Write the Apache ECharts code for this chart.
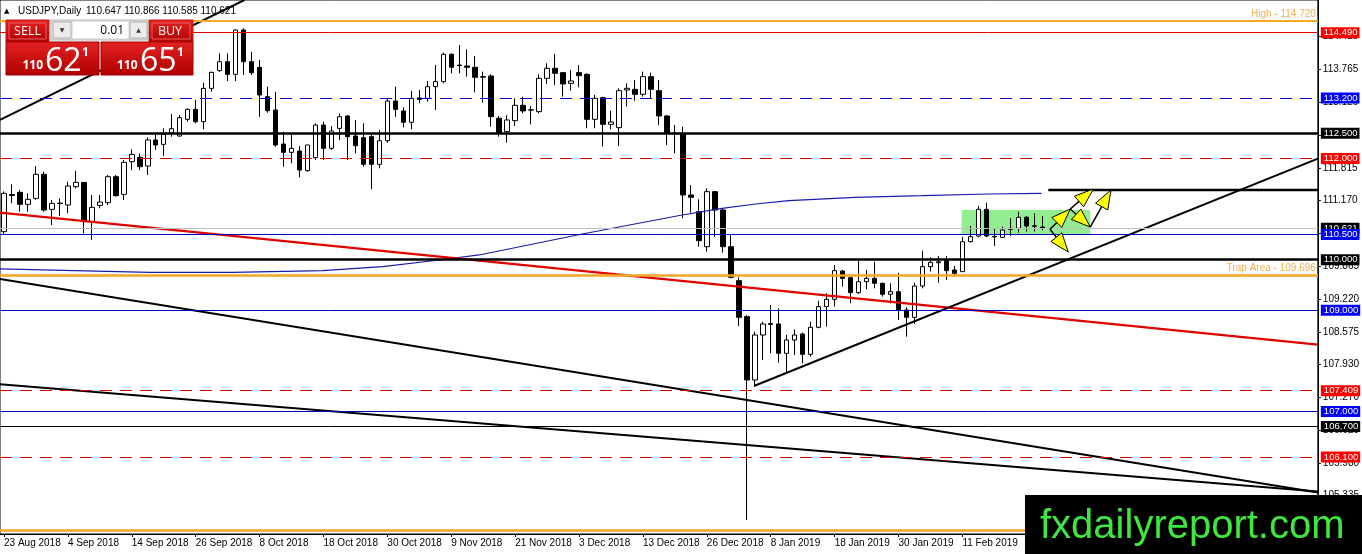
<!DOCTYPE html>
<html><head><meta charset="utf-8">
<style>html,body{margin:0;padding:0;background:#fff;overflow:hidden}#c{width:1362px;height:554px}</style>
<script src="https://cdn.jsdelivr.net/npm/echarts@6.0.0/dist/echarts.min.js"></script>
</head><body><div id="c"></div>
<script>
// ---- data ----
const tickLabels = ["23 Aug 2018","4 Sep 2018","14 Sep 2018","26 Sep 2018","8 Oct 2018","18 Oct 2018","30 Oct 2018","9 Nov 2018","21 Nov 2018","3 Dec 2018","13 Dec 2018","26 Dec 2018","8 Jan 2019","18 Jan 2019","30 Jan 2019","11 Feb 2019","21 Feb 2019"];
const opens = [110.555,111.29,111.333,111.095,111.214,111.689,110.996,111.11,111.082,111.445,111.530,110.752,111.075,111.128,111.642,111.293,111.939,112.025,111.853,112.368,112.282,112.513,112.447,112.776,112.974,112.73,113.389,113.739,113.917,113.666,114.543,113.917,113.805,113.225,112.961,112.288,112.124,112.15,111.761,112.018,112.664,112.203,112.598,112.842,112.447,112.414,112.434,111.886,112.354,113.139,112.942,112.718,113.2,113.192,113.423,113.522,114.063,113.85,113.832,113.806,113.62,113.634,112.797,112.533,112.751,113.054,112.96,112.929,113.588,113.786,113.70,113.489,113.70,113.667,112.777,113.206,112.678,112.612,113.357,113.37,113.272,113.621,113.344,112.843,112.5,112.49,111.28,110.951,110.258,111.346,110.984,110.258,109.586,108.874,107.621,108.511,108.72,108.729,108.149,108.412,108.531,108.129,108.663,109.072,109.217,109.777,109.645,109.349,109.566,109.632,109.533,109.316,109.368,109.006,108.861,109.48,109.863,109.94,109.982,109.797,109.764,110.357,110.469,110.997,110.46,110.443,110.6,110.621,110.839,110.67,110.647];
const highs = [111.35,111.49,111.379,111.313,111.853,111.741,111.181,111.214,111.543,111.761,111.53,111.280,111.28,111.675,111.675,111.972,112.183,112.104,112.42,112.467,112.598,112.882,112.862,112.994,113.159,113.502,113.719,114.082,114.082,114.556,114.576,114.115,113.95,113.422,113.324,112.532,112.499,112.249,112.269,112.697,112.73,112.644,112.895,112.862,112.763,112.697,112.499,112.565,113.192,113.422,113.014,113.338,113.357,113.535,113.852,114.096,114.082,114.247,114.162,114.03,113.72,113.667,112.843,112.863,113.192,113.225,113.041,113.667,113.885,114.069,113.70,113.753,113.852,113.687,113.258,113.225,112.949,113.39,113.489,113.555,113.72,113.70,113.555,112.863,112.665,112.632,111.478,111.195,111.412,111.36,111.017,110.489,109.652,108.907,108.577,108.775,109.105,109.039,108.511,108.623,108.558,108.775,109.19,109.335,109.896,109.797,109.652,109.975,109.797,109.962,109.546,109.533,109.744,109.059,109.546,110.179,110.047,110.074,110.074,109.876,110.456,110.667,111.063,111.129,110.621,110.654,110.819,110.951,110.865,110.918,110.866];
const lows = [110.50,111.115,110.95,110.95,111.181,110.95,110.686,110.864,110.917,111.412,110.522,110.39,111.016,111.082,111.247,111.181,111.774,111.774,111.675,112.17,112.051,112.434,112.434,112.73,112.697,112.579,113.324,113.719,113.535,113.535,113.653,113.653,112.829,112.908,112.236,111.84,111.906,111.629,111.741,111.972,111.972,112.17,112.368,111.972,112.104,111.84,111.392,111.807,112.315,112.829,112.619,112.579,113.094,113.127,112.962,113.489,113.687,113.687,113.621,113.311,113.107,112.632,112.434,112.316,112.645,112.896,112.678,112.896,113.476,113.456,113.225,113.344,113.41,112.599,112.599,112.237,112.579,112.25,113.028,113.146,113.225,113.192,112.665,112.27,112.105,110.819,110.931,110.259,110.16,110.456,110.14,109.632,108.689,104.852,107.522,108.017,108.149,107.964,107.766,108.116,107.951,108.083,108.643,108.676,109.072,109.467,109.138,109.322,109.415,109.434,109.27,109.138,108.808,108.478,108.729,109.434,109.764,109.546,109.599,109.698,109.764,110.338,110.443,110.443,110.272,110.443,110.469,110.535,110.555,110.555,110.585];
const closes = [111.313,111.27,111.095,111.194,111.689,110.983,111.115,111.12,111.458,111.530,110.752,111.036,111.141,111.642,111.267,111.926,112.084,111.840,112.368,112.269,112.48,112.592,112.809,112.974,112.73,113.389,113.706,113.917,113.666,114.543,113.917,113.699,113.258,112.948,112.269,112.124,112.203,111.774,112.269,112.664,112.203,112.546,112.829,112.434,112.255,111.886,111.886,112.354,113.139,112.974,112.718,113.192,113.17,113.423,113.522,114.063,113.806,113.84,113.806,113.608,113.61,112.83,112.513,112.764,113.054,112.942,112.965,113.588,113.786,113.687,113.476,113.535,113.641,112.777,113.192,112.678,112.724,113.344,113.39,113.272,113.621,113.37,112.843,112.513,112.49,111.281,111.234,110.377,111.346,110.984,110.258,109.652,108.861,107.621,108.511,108.729,108.74,108.149,108.412,108.511,108.129,108.663,109.072,109.217,109.784,109.632,109.349,109.566,109.632,109.533,109.316,109.368,109.006,108.861,109.48,109.863,109.949,109.96,109.784,109.731,110.357,110.456,110.997,110.469,110.45,110.588,110.62,110.839,110.667,110.66,110.621];
const maLine = [[-0.5,109.817],[18.25,109.751],[28.6,109.751],[39.9,109.783],[47.4,109.862],[54.5,109.995],[59.5,110.094],[72.4,110.509],[84.9,110.885],[89.9,111.017],[94.1,111.102],[98.25,111.167],[106.6,111.235],[114.9,111.266],[123.25,111.3],[129.9,111.314]];
const levelPrices = [114.720,114.490,113.200,112.500,112.000,110.621,110.500,110.000,109.696,109.000,107.409,107.000,106.700,106.100,104.654];
const levelTexts = {0:"High - 114.720", 8:"Trap Area - 109.696"};
const trendTopLeft = [[-0.5,112.764],[30.1,115.137]];
const redTrend = [[-0.5,110.93],[164.5,108.319]];
const lowerTrendA = [[-0.5,109.619],[164.5,105.396]];
const lowerTrendB = [[-0.5,107.536],[164.5,105.416]];
const upTrend = [[93.9,107.502],[164.5,112.0]];
const resistance = [[130.75,111.379],[164.5,111.379]];
const zone = [[119.9,110.984],[136,110.509]];
const arrows = [[130.96,110.602,133.25,110.153],[130.96,110.602,133.5,111.003],[133.5,111.003,136.4,111.399],[133.5,111.003,136,110.647],[136,110.647,138.6,111.379]];
const yTicks = [114.425,113.765,113.120,112.470,111.815,111.170,110.525,109.865,109.220,108.575,107.930,107.270,106.625,105.980,105.335];
const header = {symbol:"USDJPY,Daily", ohlc:"110.647 110.866 110.585 110.621", lot:"0.01", sellBig:"110", sellMain:"62", sellSup:"1", buyBig:"110", buyMain:"65", buySup:"1"};

// ---- styles ----
const N = 165;
const FONT = "Liberation Sans, Arial, sans-serif";
const RED = '#ff0000', BLUE = '#0000ff', BLK = '#000000', ORANGE = '#f5a623';
const levelStyles = [
  {color:ORANGE,width:2,type:'solid',text:true},
  {color:'#e00000',width:1,type:'solid',box:RED},
  {color:'#0000c0',width:1,type:[12,8],box:BLUE},
  {color:BLK,width:2.5,type:'solid',box:BLK},
  {color:'#d00000',width:1,type:[12,8],box:RED},
  {color:'#c0c0c0',width:1,type:'solid',box:BLK},
  {color:'#0000c0',width:1,type:'solid',box:BLUE},
  {color:BLK,width:2.5,type:'solid',box:BLK},
  {color:ORANGE,width:2.5,type:'solid',text:true},
  {color:'#0000c0',width:1,type:'solid',box:BLUE},
  {color:'#d00000',width:1,type:[12,8],box:RED},
  {color:'#0000c0',width:1,type:'solid',box:BLUE},
  {color:BLK,width:1,type:'solid',box:BLK},
  {color:'#d00000',width:1,type:[12,8],box:RED},
  {color:ORANGE,width:2.5,type:'solid'}
];

const categories = Array.from({length:N},(_,i)=>String(i));
const candleData = opens.map((o,i)=>[o,closes[i],lows[i],highs[i]]);

const markLineData = levelPrices.map((p,i)=>{
  const s = levelStyles[i];
  const item = {yAxis:p, lineStyle:{color:s.color,width:s.width,type:s.type}};
  if (s.box) {
    item.label = {show:true, position:'end', distance:3, formatter:()=>p.toFixed(3),
      backgroundColor:s.box, color:'#fff', padding:[1,2,0,3], fontSize:9.5, fontFamily:FONT, lineHeight:10};
  } else if (s.text) {
    item.label = {show:true, position:'insideEndTop', distance:2, formatter:()=>levelTexts[i],
      color:'#f0b04c', fontSize:10, fontFamily:FONT};
  } else {
    item.label = {show:false};
  }
  return item;
});

function lineSeries(data, color, width, z) {
  return {type:'line', xAxisIndex:1, yAxisIndex:0, data:data, symbol:'none', silent:true,
    lineStyle:{color:color,width:width}, z:z||4, animation:false};
}

function redGrad(){ return new echarts.graphic.LinearGradient(0,0,0,1,[{offset:0,color:'#e42222'},{offset:1,color:'#b00000'}]); }

const option = {
  animation:false,
  backgroundColor:'#fff',
  grid:{left:0,right:42,top:0,bottom:20,show:true,borderColor:'#000',borderWidth:1,backgroundColor:'#fff'},
  xAxis:[
    {type:'category',data:categories,boundaryGap:true,
     axisLine:{show:true,onZero:false,lineStyle:{color:'#000'}},
     axisTick:{show:true,length:3,alignWithLabel:true,interval:(i)=>i%8===0,lineStyle:{color:'#000'}},
     axisLabel:{show:true,interval:(i)=>i%8===0,align:'left',margin:4,color:'#000',fontSize:10,fontFamily:FONT,
       formatter:(v,i)=> (i%8===0 && tickLabels[i/8]) ? tickLabels[i/8] : ''},
     splitLine:{show:false}},
    {type:'value',min:-0.5,max:N-0.5,show:false,splitLine:{show:false},axisLine:{onZero:false}}
  ],
  yAxis:[{type:'value',position:'right',min:104.575,max:115.137,scale:true,
    axisLine:{show:true,onZero:false,lineStyle:{color:'#000'}},
    axisTick:{show:true,length:3,customValues:yTicks,lineStyle:{color:'#000'}},
    axisLabel:{show:true,customValues:yTicks,margin:5,color:'#000',fontSize:10,fontFamily:FONT,formatter:(v)=>v.toFixed(3)},
    splitLine:{show:false}}],
  series:[
    {type:'line',xAxisIndex:1,data:[],z:1,silent:true,
     markArea:{silent:true,itemStyle:{color:'#90ee90',opacity:1},
       data:[[{coord:zone[0]},{coord:zone[1]}]]}},
    {type:'candlestick',xAxisIndex:0,yAxisIndex:0,data:candleData,barWidth:5,z:3,silent:true,
     itemStyle:{color:'#fff',color0:'#000',borderColor:'#000',borderColor0:'#000',borderWidth:1}},
    {type:'line',xAxisIndex:1,data:[],z:4,silent:true,
     markLine:{silent:true,symbol:['none','none'],animation:false,data:markLineData}},
    lineSeries(maLine,'#1a1aa8',1.2),
    lineSeries(redTrend,'#e00000',2.2),
    lineSeries(trendTopLeft,'#000',2),
    lineSeries(lowerTrendA,'#000',2),
    lineSeries(lowerTrendB,'#000',2),
    lineSeries(upTrend,'#000',2),
    lineSeries(resistance,'#000',2.5),
    {type:'custom',xAxisIndex:1,yAxisIndex:0,data:arrows,z:6,silent:true,
     encode:{x:[0,2],y:[1,3]},
     renderItem:function(params,api){
       const p1 = api.coord([api.value(0),api.value(1)]);
       const p2 = api.coord([api.value(2),api.value(3)]);
       const dx=p2[0]-p1[0], dy=p2[1]-p1[1], len=Math.hypot(dx,dy);
       const ux=dx/len, uy=dy/len, hl=Math.min(19,len*0.8), hw=7;
       const bx=p2[0]-ux*hl, by=p2[1]-uy*hl;
       return {type:'group',children:[
         {type:'line',shape:{x1:p1[0],y1:p1[1],x2:bx,y2:by},style:{stroke:'#000',lineWidth:1.5}},
         {type:'polygon',shape:{points:[[p2[0],p2[1]],[bx-uy*hw,by+ux*hw],[bx+uy*hw,by-ux*hw]]},
          style:{fill:'#ffff00',stroke:'#000',lineWidth:1}}
       ]};
     }}
  ],
  graphic:[
    {type:'text',z:100,style:{text:'▲',x:4,y:11,font:'7px DejaVu Sans',fill:'#000',textVerticalAlign:'middle',verticalAlign:'middle'}},
    {type:'text',z:100,style:{text:header.symbol,x:18,y:11,font:'10px '+FONT,fill:'#000',textVerticalAlign:'middle',verticalAlign:'middle'}},
    {type:'text',z:100,style:{text:header.ohlc,x:86,y:11,font:'10px '+FONT,fill:'#000',textVerticalAlign:'middle',verticalAlign:'middle'}},
    // sell / buy buttons
    {type:'rect',z:100,shape:{x:6,y:20,width:43,height:22},style:{fill:redGrad(),stroke:'#c81818',lineWidth:1}},
    {type:'rect',z:100,shape:{x:9,y:23,width:37,height:16},style:{fill:'none',stroke:'#e86060',lineWidth:1}},
    {type:'text',z:101,style:{text:'SELL',x:27.5,y:31.5,font:'12.5px Open Sans',fill:'#fff',textAlign:'center',align:'center',textVerticalAlign:'middle',verticalAlign:'middle'}},
    {type:'rect',z:100,shape:{x:149,y:20,width:44,height:22},style:{fill:redGrad(),stroke:'#c81818',lineWidth:1}},
    {type:'rect',z:100,shape:{x:152,y:23,width:38,height:16},style:{fill:'none',stroke:'#e86060',lineWidth:1}},
    {type:'text',z:101,style:{text:'BUY',x:170,y:31.5,font:'12.5px Open Sans',fill:'#fff',textAlign:'center',align:'center',textVerticalAlign:'middle',verticalAlign:'middle'}},
    // lot control
    {type:'rect',z:100,shape:{x:50,y:20,width:98,height:20},style:{fill:'#dcdcdc',stroke:'#b8b8b8',lineWidth:1}},
    {type:'rect',z:100,shape:{x:53,y:22,width:18,height:16},style:{fill:'#ececec',stroke:'#b0b0b0',lineWidth:1}},
    {type:'rect',z:100,shape:{x:72,y:21,width:57,height:18},style:{fill:'#ffffff',stroke:'#d0d0d0',lineWidth:1}},
    {type:'rect',z:100,shape:{x:130,y:22,width:17,height:16},style:{fill:'#ececec',stroke:'#b0b0b0',lineWidth:1}},
    {type:'text',z:101,style:{text:'▼',x:62,y:30,font:'6px DejaVu Sans',fill:'#333',textAlign:'center',align:'center',textVerticalAlign:'middle',verticalAlign:'middle'}},
    {type:'text',z:101,style:{text:'▲',x:138.5,y:30,font:'6px DejaVu Sans',fill:'#333',textAlign:'center',align:'center',textVerticalAlign:'middle',verticalAlign:'middle'}},
    {type:'text',z:101,style:{text:header.lot,x:124,y:30.5,font:'12px Open Sans',fill:'#000',textAlign:'right',align:'right',textVerticalAlign:'middle',verticalAlign:'middle'}},
    // price boxes
    {type:'rect',z:100,shape:{x:6,y:42,width:93,height:33},style:{fill:redGrad(),stroke:'#a00000',lineWidth:1}},
    {type:'rect',z:100,shape:{x:101,y:42,width:92,height:33},style:{fill:redGrad(),stroke:'#a00000',lineWidth:1}},
    {type:'text',z:101,style:{text:header.sellBig,x:22.5,y:72,font:'bold 12px Open Sans',fill:'#fff',textVerticalAlign:'bottom',verticalAlign:'bottom'}},
    {type:'text',z:101,style:{text:header.sellMain,x:45,y:78,font:'32px Open Sans',fill:'#fff',textVerticalAlign:'bottom',verticalAlign:'bottom'}},
    {type:'text',z:101,style:{text:header.sellSup,x:82,y:59,font:'bold 12px Open Sans',fill:'#fff',textVerticalAlign:'bottom',verticalAlign:'bottom'}},
    {type:'text',z:101,style:{text:header.buyBig,x:117,y:72,font:'bold 12px Open Sans',fill:'#fff',textVerticalAlign:'bottom',verticalAlign:'bottom'}},
    {type:'text',z:101,style:{text:header.buyMain,x:140,y:78,font:'32px Open Sans',fill:'#fff',textVerticalAlign:'bottom',verticalAlign:'bottom'}},
    {type:'text',z:101,style:{text:header.buySup,x:177,y:59,font:'bold 12px Open Sans',fill:'#fff',textVerticalAlign:'bottom',verticalAlign:'bottom'}},
    // watermark
    {type:'rect',z:100,shape:{x:1025,y:495,width:337,height:59},style:{fill:'#000'}},
    {type:'text',z:101,style:{text:'fxdailyreport.com',x:1040,y:527,font:'40px Liberation Sans',fill:'#3ee63e',textVerticalAlign:'middle',verticalAlign:'middle'}}
  ]
};
const chart = echarts.init(document.getElementById('c'),null,{renderer:'canvas'});
chart.setOption(option);
</script>
</body></html>
